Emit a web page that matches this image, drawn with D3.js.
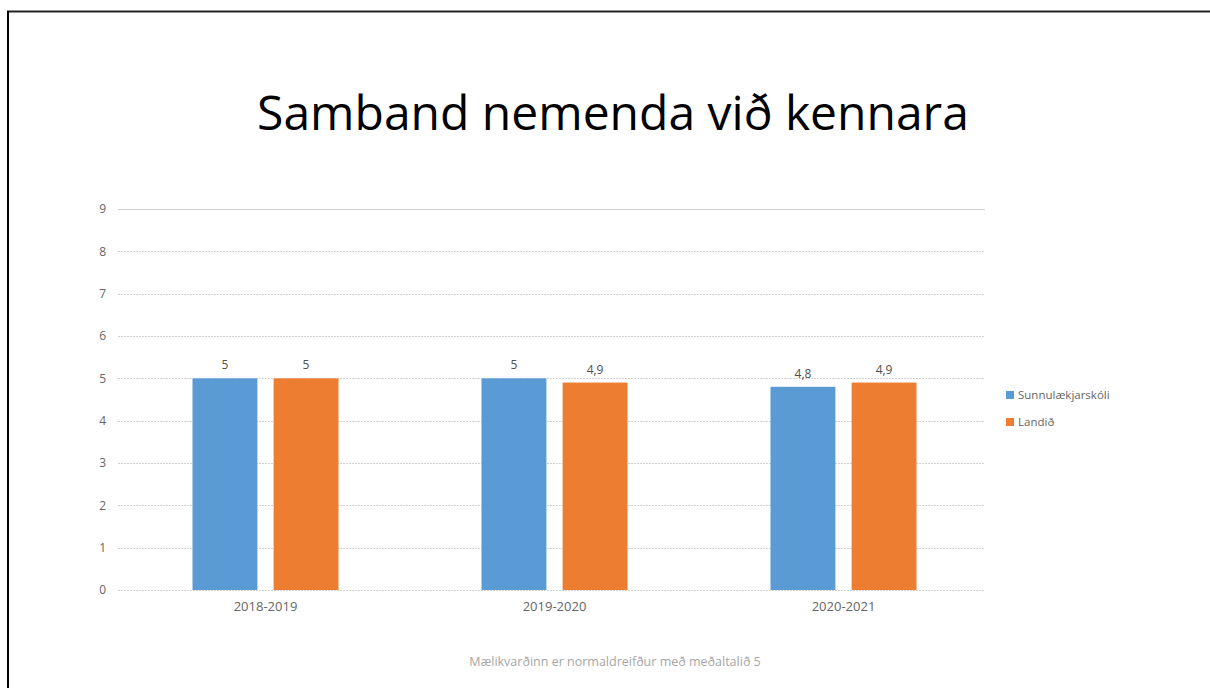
<!DOCTYPE html>
<html>
<head>
<meta charset="utf-8">
<script src="https://cdn.jsdelivr.net/npm/d3@7/dist/d3.min.js"></script>
<style>
  html, body { margin: 0; padding: 0; background: #fff; }
  svg { display: block; }
</style>
</head>
<body>
<script>
// Skólaár og niðurstöður
const categories = ["2018-2019", "2019-2020", "2020-2021"];
const seriesNames = ["Sunnulækjarskóli", "Landið"];
const schoolValues = [5, 5, 4.8];
const nationalValues = [5, 4.9, 4.9];
const yTicks = [0, 1, 2, 3, 4, 5, 6, 7, 8, 9];
const colors = ["#5b9bd5", "#ed7d31"];
const title = "Samband nemenda við kennara";
const footnote = "Mælikvarðinn er normaldreifður með meðaltalið 5";

const W = 1210, H = 688;
const svg = d3.select("body").append("svg").attr("width", W).attr("height", H);

// Rammi efst og vinstra megin
svg.append("line").attr("x1", 7).attr("x2", W).attr("y1", 11.5).attr("y2", 11.5)
  .attr("stroke", "#222").attr("stroke-width", 2);
svg.append("line").attr("x1", 8).attr("x2", 8).attr("y1", 11).attr("y2", H)
  .attr("stroke", "#000").attr("stroke-width", 2);

const font = "'Open Sans', 'Noto Sans', sans-serif";

svg.append("text").attr("x", 613).attr("y", 130).attr("text-anchor", "middle")
  .attr("font-family", font).attr("font-size", 48).attr("fill", "#000")
  .text(title);

const plot = { left: 118, right: 985, top: 209, bottom: 590 };

const x = d3.scaleBand().domain(categories).range([plot.left + 3, plot.right + 3]);
const y = d3.scaleLinear().domain([0, 9]).range([plot.bottom, plot.top]);
const inner = d3.scaleBand().domain(seriesNames).range([-73, 73]).paddingInner(0.2);

// Hnitalínur
const grid = svg.append("g");
grid.selectAll("line").data(yTicks).join("line")
  .attr("x1", plot.left).attr("x2", plot.right)
  .attr("y1", d => Math.round(y(d)) + 0.5).attr("y2", d => Math.round(y(d)) + 0.5)
  .attr("stroke", "#d0d0d0").attr("stroke-width", 1)
  .attr("stroke-dasharray", d => d === 9 ? null : "2,1");

// Y-ás
const yAxis = d3.axisLeft(y).tickValues(yTicks).tickSize(0).tickPadding(12);
svg.append("g").attr("transform", `translate(${plot.left},0)`).call(yAxis)
  .call(g => g.select(".domain").remove())
  .call(g => g.selectAll("text").attr("font-family", font).attr("font-size", 12).attr("fill", "#666"));

// X-ás
const xAxis = d3.axisBottom(x).tickSize(0).tickPadding(12);
svg.append("g").attr("transform", `translate(0,${plot.bottom})`).call(xAxis)
  .call(g => g.select(".domain").remove())
  .call(g => g.selectAll("text").attr("font-family", font).attr("font-size", 13).attr("fill", "#666"));

const rows = categories.map((c, i) => ({
  cat: c,
  vals: [{ s: seriesNames[0], v: schoolValues[i], k: 0 }, { s: seriesNames[1], v: nationalValues[i], k: 1 }]
}));

const fmt = v => String(v).replace(".", ",");

const groups = svg.append("g").selectAll("g").data(rows).join("g")
  .attr("transform", d => `translate(${x(d.cat) + x.bandwidth() / 2},0)`);

groups.selectAll("rect").data(d => d.vals).join("rect")
  .attr("x", d => inner(d.s)).attr("width", inner.bandwidth())
  .attr("y", d => y(d.v)).attr("height", d => y(0) - y(d.v))
  .attr("fill", d => colors[d.k]);

groups.selectAll("text.lbl").data(d => d.vals).join("text").attr("class", "lbl")
  .attr("x", d => inner(d.s) + inner.bandwidth() / 2).attr("y", d => y(d.v) - 9)
  .attr("text-anchor", "middle").attr("font-family", font).attr("font-size", 12)
  .attr("fill", "#505050").text(d => fmt(d.v));

// Skýringar
const legend = svg.append("g").attr("transform", "translate(1006,0)");
const li = legend.selectAll("g").data(seriesNames).join("g")
  .attr("transform", (d, i) => `translate(0,${395 + i * 27})`);
li.append("rect").attr("x", 0).attr("y", -4).attr("width", 8).attr("height", 8)
  .attr("fill", (d, i) => colors[i]);
li.append("text").attr("x", 12).attr("y", 0).attr("dy", "0.35em")
  .attr("font-family", font).attr("font-size", 11.5).attr("fill", "#666").text(d => d);

svg.append("text").attr("x", 615).attr("y", 666).attr("text-anchor", "middle")
  .attr("font-family", font).attr("font-size", 12.5).attr("fill", "#a6a6a6")
  .text(footnote);
</script>
</body>
</html>
